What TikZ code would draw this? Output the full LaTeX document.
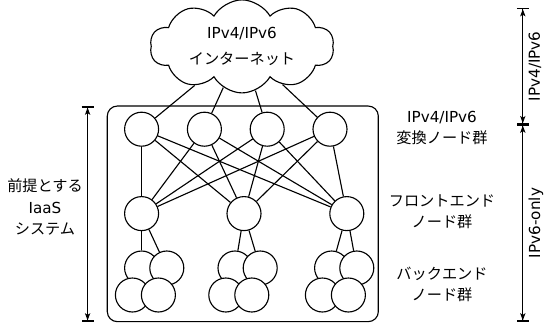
\documentclass[tikz,border=0pt]{standalone}
\usepackage{fontspec}
\setmainfont{DejaVu Sans}
\newfontfamily\jp{Noto Sans CJK JP}
\usetikzlibrary{shapes.symbols, arrows.meta}

\begin{document}
\begin{tikzpicture}[line width=0.8pt,
    font=\fontsize{10.8pt}{15pt}\selectfont,
    host/.style={circle, draw, fill=white, minimum size=0.85cm, inner sep=0pt},
    grouptext/.style={align=center},
    dimline/.style={{Bar[width=0.3cm,sep=0pt]Stealth[length=0.18cm,width=0.13cm,inset=0.04cm]}-{Stealth[length=0.18cm,width=0.13cm,inset=0.04cm]Bar[width=0.3cm,sep=0pt]}}]
    \useasboundingbox (0,0) rectangle (13.6,8.1);

    % Internet
    \node[cloud, draw, cloud puffs=10, cloud puff arc=120, aspect=2.5,
          minimum width=4.6cm, minimum height=1.8cm, align=center] (inet) at (6.05,6.94)
        {IPv4/IPv6\\[3pt]{\jp インターネット}};

    % IaaS system
    \node[draw, rounded corners=0.25cm, minimum width=6.775cm, minimum height=5.39cm] (iaas) at (6.07,2.754) {};

    % translator nodes
    \foreach \x [count=\i] in {3.54,5.11,6.68,8.25}
        \node[host] (t\i) at (\x,4.87) {};
    % front-end nodes
    \foreach \x [count=\i] in {3.54,6.1,8.67}
        \node[host] (f\i) at (\x,2.76) {};
    \foreach \i in {1,...,4} {
        \draw (inet) -- (t\i);
        \foreach \j in {1,2,3}
            \draw (t\i) -- (f\j);
    }
    % back-end nodes, four under each front-end node
    \foreach \x [count=\i] in {3.54,5.875,8.29} {
        \node[host] (b\i-1) at (\x,1.4) {};
        \node[host] (b\i-2) at (\x+0.63,1.4) {};
        \node[host] (b\i-3) at (\x-0.23,0.725) {};
        \node[host] (b\i-4) at (\x+0.42,0.725) {};
        \draw (f\i) -- (b\i-1);
        \draw (f\i) -- (b\i-2);
    }

    % group labels
    \node[grouptext] (trlabel) at (11.05,4.89) {IPv4/IPv6\\{\jp 変換ノード群}};
    \node[grouptext] (felabel) at (11.05,2.81) {{\jp フロントエンド}\\{\jp ノード群}};
    \node[grouptext] (belabel) at (11.05,1.0) {{\jp バックエンド}\\{\jp ノード群}};
    \node[grouptext] (iaaslabel) at (1.125,2.925) {{\jp 前提とする}\\IaaS\\{\jp システム}};

    % extent of the IaaS system
    \coordinate (ltop) at (2.19,5.44);
    \coordinate (lbot) at (2.19,0.06);
    \draw[dimline] (ltop) -- (lbot);

    % address families
    \coordinate (rtop) at (13.07,7.9);
    \coordinate (rmid) at (13.07,4.99);
    \coordinate (rbot) at (13.07,0.06);
    \draw[dimline] (rtop) -- (rmid) node[midway, rotate=90, anchor=north, inner sep=0.13cm] (dual) {IPv4/IPv6};
    \draw[dimline] (rmid) -- (rbot) node[midway, rotate=90, anchor=north, inner sep=0.13cm] (v6only) {IPv6-only};
\end{tikzpicture}
\end{document}
